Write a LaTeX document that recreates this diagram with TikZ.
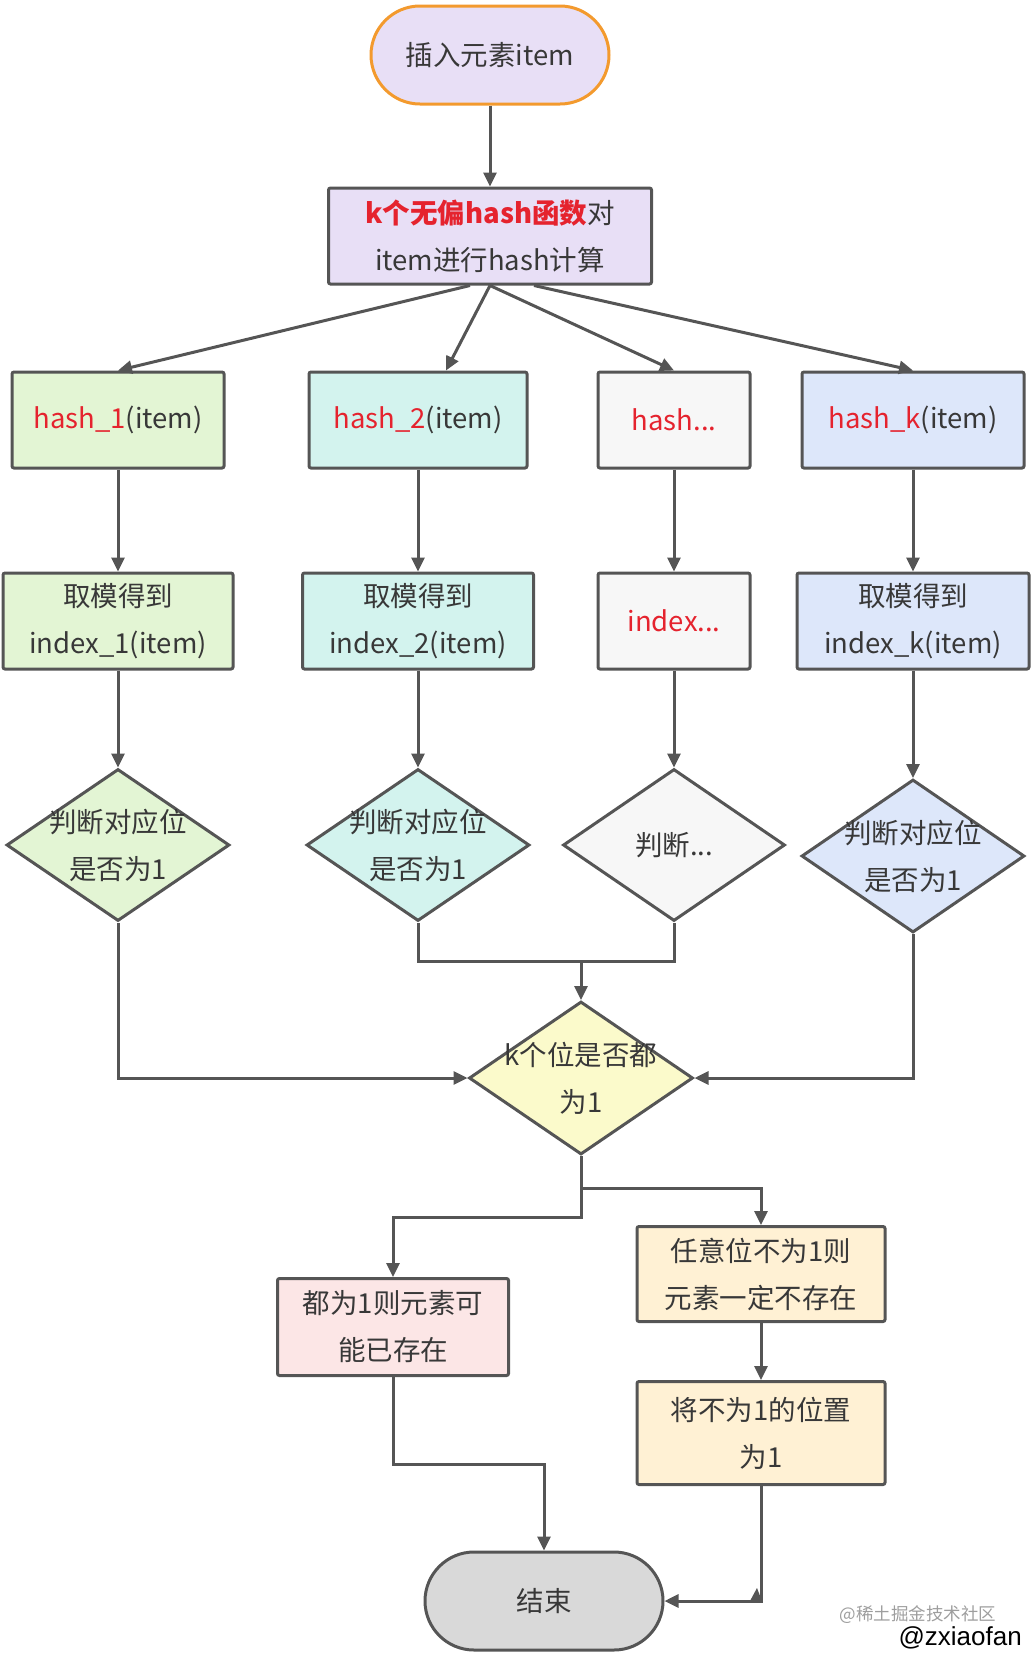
\documentclass[tikz,border=0pt]{standalone}
\usepackage{fontspec}
\setmainfont{Noto Sans CJK SC}
\newfontfamily\wmfont{Liberation Sans}
\usetikzlibrary{arrows.meta,shapes.geometric}
\definecolor{ln}{HTML}{555555}
\definecolor{txt}{HTML}{383838}
\definecolor{rd}{HTML}{E5232E}
\definecolor{orangeb}{HTML}{F39A2E}
\definecolor{lav}{HTML}{E8DFF6}
\definecolor{grn}{HTML}{E3F5D4}
\definecolor{cyn}{HTML}{D3F3EE}
\definecolor{gry}{HTML}{F7F7F7}
\definecolor{blu}{HTML}{DDE7FA}
\definecolor{yel}{HTML}{FBFACB}
\definecolor{pnk}{HTML}{FCE6E6}
\definecolor{crm}{HTML}{FFF1D4}
\definecolor{endg}{HTML}{D9D9D9}
\newcommand{\mainfs}{\fontsize{27.5}{47}\selectfont}
\begin{document}
\begin{tikzpicture}[x=1pt,y=-1pt,
  box/.style={draw=ln, line width=3pt, rounded corners=2pt, inner sep=0pt, text=txt, font=\mainfs, align=center},
  term/.style={line width=3pt, rounded corners=49pt, inner sep=0pt, text=txt, font=\mainfs, align=center, minimum width=238pt, minimum height=98pt},
  dia/.style={draw=ln, line width=3pt, shape=diamond, inner sep=0pt},
  dlab/.style={text=txt, font=\mainfs, align=center},
  arr/.style={draw=ln, line width=3pt, -{Triangle[length=14pt,width=13pt]}},
  plain/.style={draw=ln, line width=3pt}]
\useasboundingbox (0,0) rectangle (1031,1658);

% nodes
\node[term, draw=orangeb, fill=lav] (s) at (490,55) {插入元素item};
\node[box, fill=lav, minimum width=323pt, minimum height=96pt] (c) at (490,236)
  {\textcolor{rd}{\bfseries k个无偏hash函数}对\\item进行hash计算};

\node[box, fill=grn, minimum width=212pt, minimum height=96pt] (h1) at (118,420) {\textcolor{rd}{hash\_1}(item)};
\node[box, fill=cyn, minimum width=218pt, minimum height=96pt] (h2) at (418,420) {\textcolor{rd}{hash\_2}(item)};
\node[box, fill=gry, minimum width=152pt, minimum height=96pt] (hd) at (674,420) {\textcolor{rd}{hash...}};
\node[box, fill=blu, minimum width=222pt, minimum height=96pt] (hk) at (913,420) {\textcolor{rd}{hash\_k}(item)};

\node[box, fill=grn, minimum width=230pt, minimum height=96pt] (i1) at (118,621) {取模得到\\index\_1(item)};
\node[box, fill=cyn, minimum width=231pt, minimum height=96pt] (i2) at (418,621) {取模得到\\index\_2(item)};
\node[box, fill=gry, minimum width=152pt, minimum height=96pt] (id) at (674,621) {\textcolor{rd}{index...}};
\node[box, fill=blu, minimum width=232pt, minimum height=96pt] (ik) at (913,621) {取模得到\\index\_k(item)};

\node[dia, fill=grn, minimum width=223pt, minimum height=152pt,
  label={[dlab]center:判断对应位\\是否为1}] (d1) at (118,845) {};
\node[dia, fill=cyn, minimum width=223pt, minimum height=152pt,
  label={[dlab]center:判断对应位\\是否为1}] (d2) at (418,845) {};
\node[dia, fill=gry, minimum width=222pt, minimum height=152pt,
  label={[dlab]center:判断...}] (d3) at (674,845) {};
\node[dia, fill=blu, minimum width=223pt, minimum height=153pt,
  label={[dlab]center:判断对应位\\是否为1}] (d4) at (913,856) {};

\node[dia, fill=yel, minimum width=224pt, minimum height=153pt,
  label={[dlab]center:k个位是否都\\为1}] (m) at (581,1078) {};

\node[box, fill=pnk, minimum width=231pt, minimum height=97pt] (p) at (393,1327) {都为1则元素可\\能已存在};
\node[box, fill=crm, minimum width=248pt, minimum height=95pt] (n) at (761,1274) {任意位不为1则\\元素一定不存在};
\node[box, fill=crm, minimum width=248pt, minimum height=103pt] (q) at (761,1433) {将不为1的位置\\为1};

\node[term, draw=ln, fill=endg] (e) at (544,1601) {结束};

\node[anchor=east, text=black!38, font=\fontsize{17.5}{17.5}\selectfont] (wm1) at (1000,1615) {@稀土掘金技术社区};
\node[anchor=east, text=black, font=\wmfont\fontsize{26}{26}\selectfont, inner sep=0pt] (wm2) at (1022,1638) {@zxiaofan};

% connectors
\draw[arr] (s) -- (c);
\draw[arr] ([xshift=-20pt]c.south) -- (h1.north);
\draw[arr] (c.south) -- ([xshift=28pt]h2.north);
\draw[arr] (c.south) -- (hd.north);
\draw[arr] ([xshift=44pt]c.south) -- (hk.north);

\foreach \a/\b in {h1/i1,h2/i2,hd/id,hk/ik,i1/d1,i2/d2,id/d3,ik/d4}
  \draw[arr] (\a.south) -- (\b.north);

\draw[arr] (d1.south) |- (m.west);
\draw[arr] (d4.south) |- (m.east);
\draw[plain] (d2.south) -- ++(0,39) coordinate (jl) -| (d3.south);
\draw[arr] (m.north |- jl) -- (m.north);

\draw[arr] (m.south) -- ++(0,61) -| (p.north);
\draw[arr] ([yshift=-32pt]m.south) -| (n.north);
\draw[arr] (n.south) -- (q.north);
\draw[arr] (p.south) -- ++(0,87) -| (e.north);
\draw[arr] (q.south) |- (e.east);
\fill[ln] ([xshift=-11pt]q.south |- e.east) -- ([xshift=-4pt,yshift=13pt]q.south |- e.east) -- ([xshift=1pt]q.south |- e.east) -- cycle;
\end{tikzpicture}
\end{document}
